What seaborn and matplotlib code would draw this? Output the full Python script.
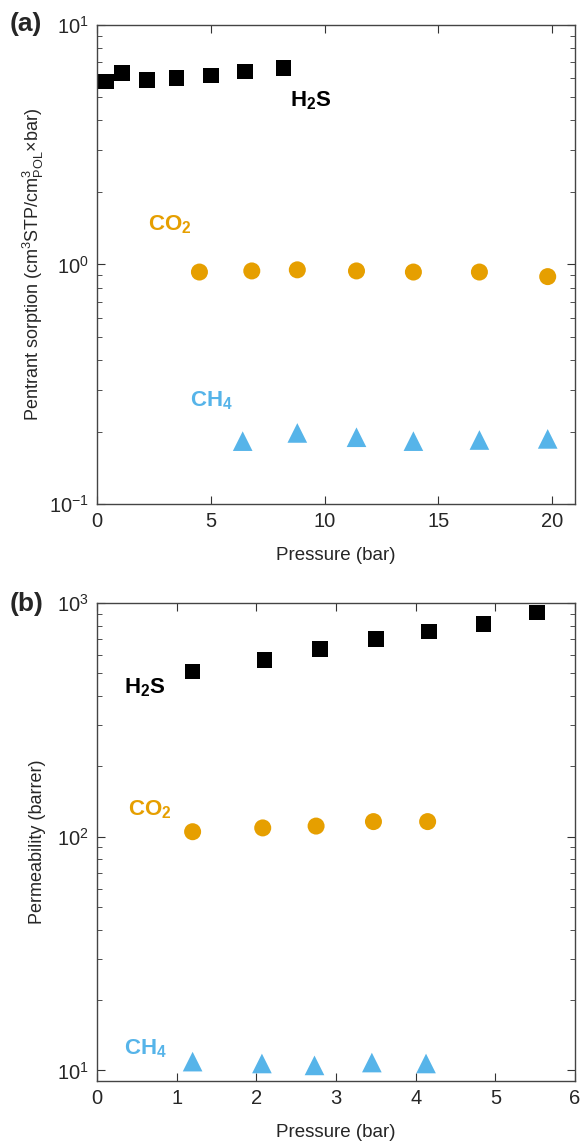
import matplotlib
matplotlib.use("Agg")
import matplotlib.pyplot as plt
import seaborn as sns
import pandas as pd
from matplotlib.ticker import LogLocator, NullFormatter

# panel (a): sorption coefficient vs pressure
h2s_p_a = [0.4, 1.1, 2.2, 3.5, 5.0, 6.5, 8.2]
h2s_s = [5.8, 6.3, 5.9, 6.0, 6.15, 6.4, 6.6]
co2_p_a = [4.5, 6.8, 8.8, 11.4, 13.9, 16.8, 19.8]
co2_s = [0.93, 0.94, 0.95, 0.94, 0.93, 0.93, 0.89]
ch4_p_a = [6.4, 8.8, 11.4, 13.9, 16.8, 19.8]
ch4_s = [0.183, 0.198, 0.19, 0.183, 0.185, 0.187]

# panel (b): permeability vs pressure
h2s_p_b = [1.2, 2.1, 2.8, 3.5, 4.17, 4.85, 5.52]
h2s_perm = [510, 570, 635, 700, 755, 815, 910]
co2_p_b = [1.2, 2.08, 2.75, 3.47, 4.15]
co2_perm = [105, 109, 111, 116, 116]
ch4_p_b = [1.2, 2.07, 2.73, 3.45, 4.13]
ch4_perm = [10.9, 10.7, 10.5, 10.8, 10.7]

gases = ["H2S", "CO2", "CH4"]
gas_labels = {"H2S": r"H$_\mathbf{2}$S", "CO2": r"CO$_\mathbf{2}$", "CH4": r"CH$_\mathbf{4}$"}
colors = {"H2S": "black", "CO2": "#E69F00", "CH4": "#56B4E9"}
markers = {"H2S": "s", "CO2": "o", "CH4": "^"}

df_a = pd.DataFrame({
    "gas": ["H2S"] * len(h2s_p_a) + ["CO2"] * len(co2_p_a) + ["CH4"] * len(ch4_p_a),
    "pressure": h2s_p_a + co2_p_a + ch4_p_a,
    "value": h2s_s + co2_s + ch4_s,
})
df_b = pd.DataFrame({
    "gas": ["H2S"] * len(h2s_p_b) + ["CO2"] * len(co2_p_b) + ["CH4"] * len(ch4_p_b),
    "pressure": h2s_p_b + co2_p_b + ch4_p_b,
    "value": h2s_perm + co2_perm + ch4_perm,
})

sns.set_style("ticks")
plt.rcParams["font.family"] = ["Liberation Sans", "DejaVu Sans"]
plt.rcParams["mathtext.fontset"] = "custom"
plt.rcParams["mathtext.rm"] = "Liberation Sans"
plt.rcParams["mathtext.it"] = "Liberation Sans"
plt.rcParams["mathtext.bf"] = "Liberation Sans:bold"
plt.rcParams["axes.unicode_minus"] = False

fig = plt.figure(figsize=(5.83, 11.47), dpi=100)
ax_a = fig.add_axes([0.1664, 0.5606, 0.8199, 0.4176])
ax_b = fig.add_axes([0.1664, 0.0575, 0.8199, 0.4168])

sizes = {"s": 125, "o": 150, "^": 200}
for ax, df in [(ax_a, df_a), (ax_b, df_b)]:
    for g in gases:
        sub = df[df["gas"] == g]
        sns.scatterplot(data=sub, x="pressure", y="value", ax=ax, color=colors[g],
                        marker=markers[g], s=sizes[markers[g]], edgecolor="none",
                        legend=False)
    ax.set_yscale("log")
    ax.tick_params(which="both", direction="in", top=True, right=True,
                   labelsize=14.5, color="#333333")
    ax.tick_params(which="major", length=6, pad=6)
    ax.tick_params(which="minor", length=3.5)
    ax.yaxis.set_minor_locator(LogLocator(base=10, subs=range(2, 10)))
    ax.yaxis.set_minor_formatter(NullFormatter())
    for sp in ax.spines.values():
        sp.set_color("#444444")
        sp.set_linewidth(1.0)
    ax.set_xlabel("Pressure (bar)", fontsize=13.5, labelpad=11)

ax_a.set_xlim(0, 21)
ax_a.set_xticks([0, 5, 10, 15, 20])
ax_a.set_ylim(0.1, 10)
ax_a.set_ylabel(r"Pentrant sorption (cm$^3$STP/cm$^3_{\rm POL}$×bar)", fontsize=13, labelpad=2)

ax_b.set_xlim(0, 6)
ax_b.set_xticks(range(0, 7))
ax_b.set_ylim(9, 1000)
ax_b.set_ylabel("Permeability (barrer)", fontsize=13, labelpad=8)

txt = dict(fontsize=16, fontweight="bold", va="center", ha="left")
ax_a.text(8.5, 4.85, gas_labels["H2S"], color=colors["H2S"], **txt)
ax_a.text(2.25, 1.46, gas_labels["CO2"], color=colors["CO2"], **txt)
ax_a.text(4.1, 0.27, gas_labels["CH4"], color=colors["CH4"], **txt)
ax_b.text(0.34, 433, gas_labels["H2S"], color=colors["H2S"], **txt)
ax_b.text(0.39, 130, gas_labels["CO2"], color=colors["CO2"], **txt)
ax_b.text(0.34, 12.4, gas_labels["CH4"], color=colors["CH4"], **txt)

fig.text(0.017, 1 - 24 / 1147, "(a)", fontsize=19, fontweight="bold", va="center")
fig.text(0.017, 1 - 604 / 1147, "(b)", fontsize=19, fontweight="bold", va="center")

fig.savefig("out.png", dpi=100)
